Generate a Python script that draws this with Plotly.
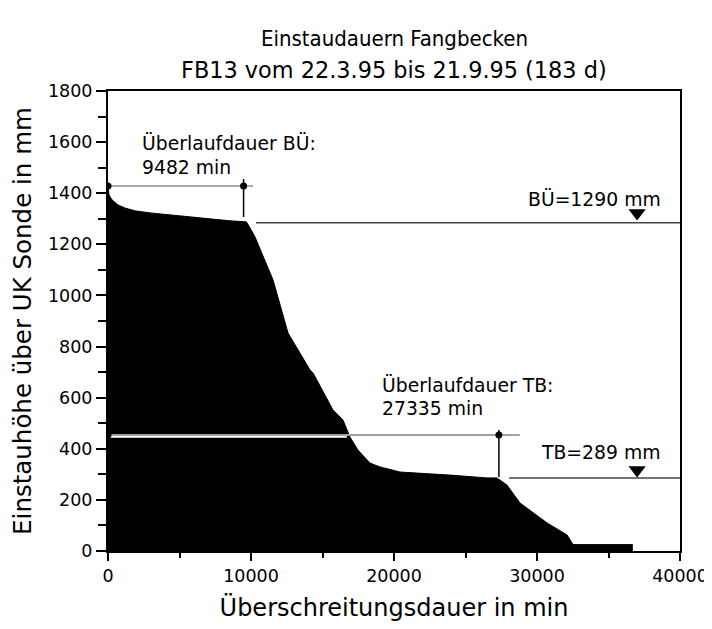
import plotly.graph_objects as go

# Duration curve (Überschreitungsdauer in min vs Einstauhöhe in mm)
dur_min = [0, 70, 280, 700, 1190, 1890, 2940, 4340, 6430, 8530, 9650, 9720,
           10280, 11540, 12590, 14130, 14340, 15730, 16430, 16920, 17480,
           18320, 19020, 20420, 23920, 26500, 27200, 27900, 28810, 30700,
           32100, 32520, 36700]
height_mm = [1430, 1393, 1374, 1354, 1342, 1331, 1323, 1315, 1303, 1292, 1288, 1285,
             1229, 1061, 853, 708, 697, 552, 513, 446, 395,
             344, 329, 309, 297, 286, 286, 258, 188, 110,
             63, 25, 25]

max_height = 1428
bu_level = 1290
tb_level = 289
bu_dur = 9482
tb_dur = 27335
tb_ref_line = 454
x_ticks = [0, 10000, 20000, 30000, 40000]
y_ticks = [0, 200, 400, 600, 800, 1000, 1200, 1400, 1600, 1800]

FONT = "DejaVu Sans"
fig = go.Figure()

fig.add_trace(go.Scatter(x=dur_min, y=height_mm, mode="lines", fill="tozeroy",
                         fillcolor="black", line=dict(color="black", width=1),
                         hoverinfo="skip"))

gray = "#8c8c8c"
dark = "#444444"
# BÜ reference line at max height
fig.add_trace(go.Scatter(x=[0, 10140], y=[max_height, max_height], mode="lines",
                         line=dict(color=gray, width=1.5)))
fig.add_trace(go.Scatter(x=[bu_dur, bu_dur], y=[1456, 1307], mode="lines",
                         line=dict(color="black", width=1.5)))
fig.add_trace(go.Scatter(x=[0, bu_dur], y=[max_height, max_height], mode="markers",
                         marker=dict(color="black", size=7)))
# BÜ level
fig.add_trace(go.Scatter(x=[10350, 40000], y=[bu_level - 6, bu_level - 6], mode="lines",
                         line=dict(color=dark, width=1.5)))
fig.add_trace(go.Scatter(x=[37000], y=[1323], mode="markers",
                         marker=dict(symbol="triangle-down", color="black", size=15)))

# TB reference line
fig.add_trace(go.Scatter(x=[0, 16700], y=[tb_ref_line - 7, tb_ref_line - 7], mode="lines",
                         line=dict(color="white", width=2)))
fig.add_trace(go.Scatter(x=[0, 28800], y=[tb_ref_line, tb_ref_line], mode="lines",
                         line=dict(color="#a0a0a0", width=2)))
fig.add_trace(go.Scatter(x=[tb_dur, tb_dur], y=[473, 290], mode="lines",
                         line=dict(color="black", width=1.5)))
fig.add_trace(go.Scatter(x=[0, tb_dur], y=[tb_ref_line, tb_ref_line], mode="markers",
                         marker=dict(color="black", size=7)))
# TB level
fig.add_trace(go.Scatter(x=[28040, 40000], y=[tb_level - 3, tb_level - 3], mode="lines",
                         line=dict(color=dark, width=1.5)))
fig.add_trace(go.Scatter(x=[37000], y=[317], mode="markers",
                         marker=dict(symbol="triangle-down", color="black", size=15)))

tf = dict(family=FONT, size=18.8, color="black")
anns = [
    dict(x=2240, y=1597, text="Überlaufdauer BÜ:", xanchor="left"),
    dict(x=2240, y=1499, text="9482 min", xanchor="left"),
    dict(x=38810, y=1378, text="BÜ=1290 mm", xanchor="right"),
    dict(x=19020, y=650, text="Überlaufdauer TB:", xanchor="left"),
    dict(x=19020, y=556, text="27335 min", xanchor="left"),
    dict(x=38810, y=387, text="TB=289 mm", xanchor="right"),
]
for a in anns:
    fig.add_annotation(**a, yanchor="middle", showarrow=False, font=tf)

fig.add_annotation(text="Einstaudauern Fangbecken", x=0.5, y=1.115, xref="paper",
                   yref="paper", yanchor="middle", showarrow=False,
                   font=dict(family="DejaVu Sans Condensed, DejaVu Sans", size=22, color="black"))
fig.add_annotation(text="FB13 vom 22.3.95 bis 21.9.95 (183 d)", x=0.5, y=1.0457, xref="paper",
                   yref="paper", yanchor="middle", showarrow=False,
                   font=dict(family=FONT, size=22.4, color="black"))

fig.update_layout(
    width=712, height=629, showlegend=False,
    plot_bgcolor="white", paper_bgcolor="white",
    margin=dict(l=100, r=40, t=83, b=86),
    xaxis=dict(range=[0, 40000], tickvals=x_ticks, ticktext=[str(v) for v in x_ticks],
               ticks="outside", ticklen=8, tickcolor="black", tickwidth=1.5,
               minor=dict(dtick=5000, ticks="outside", ticklen=5, tickcolor="black", tickwidth=1.5),
               showline=True, linecolor="black", linewidth=2, mirror=True,
               showgrid=False, zeroline=False, automargin=False,
               title=dict(text="Überschreitungsdauer in min", font=dict(family=FONT, size=24, color="black"), standoff=14),
               tickfont=dict(family=FONT, size=17.5, color="black")),
    yaxis=dict(range=[0, 1800], tickvals=y_ticks, ticktext=[str(v) for v in y_ticks],
               ticks="outside", ticklen=10, tickcolor="black", tickwidth=1.5,
               minor=dict(dtick=100, ticks="outside", ticklen=8, tickcolor="black", tickwidth=1.5),
               showline=True, linecolor="black", linewidth=2, mirror=True,
               showgrid=False, zeroline=False, automargin=False,
               title=dict(text="Einstauhöhe über UK Sonde in mm", font=dict(family=FONT, size=24.5, color="black"), standoff=12),
               tickfont=dict(family=FONT, size=17.5, color="black")),
)
fig.write_html("out.html")
